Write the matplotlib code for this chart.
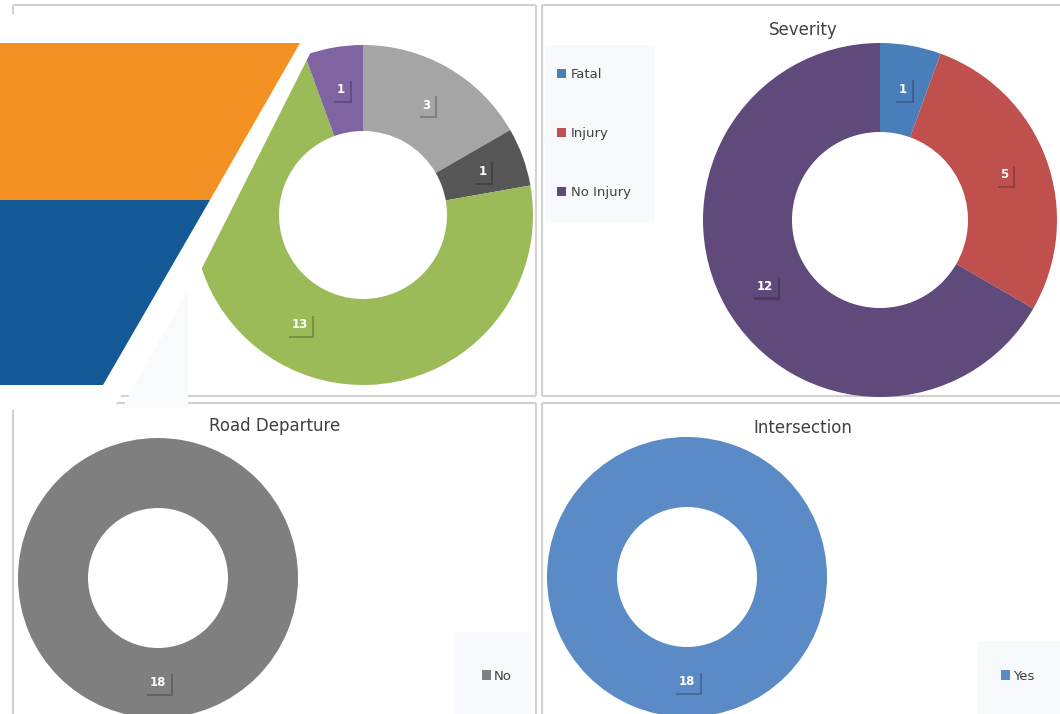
import matplotlib.pyplot as plt
from matplotlib import patheffects
from matplotlib.patches import Polygon, Rectangle

W, H = 1060, 714

# data
types_labels = ['A', 'B', 'C', 'D']
types_values = [3, 1, 13, 1]
types_colors = ['#a5a5a5', '#575757', '#9bbb59', '#8064a2']

severity_labels = ['Fatal', 'Injury', 'No Injury']
severity_values = [1, 5, 12]
severity_colors = ['#4a7ebb', '#c0504d', '#604a7b']

road_labels = ['No']
road_values = [18]
road_colors = ['#7f7f7f']

inter_labels = ['Yes']
inter_values = [18]
inter_colors = ['#5a8bc6']

TXT = '#404040'
BORDER = '#d2d2d2'
LEG_BG = '#f8f9fc'


def fx(x):
    return x / W


def fy(y):
    return 1 - y / H


fig = plt.figure(figsize=(W / 100, H / 100), dpi=100)

# background: panel borders and legend backgrounds
bg = fig.add_axes([0, 0, 1, 1], zorder=0)
bg.set_xlim(0, W)
bg.set_ylim(H, 0)
bg.axis('off')
lines = [
    ((13, 536), (5, 5)), ((536, 536), (5, 396)), ((13, 536), (396, 396)), ((13, 13), (5, 396)),
    ((542, 1062), (5, 5)), ((542, 542), (5, 396)), ((542, 1062), (396, 396)),
    ((13, 536), (403, 403)), ((13, 13), (403, 716)), ((536, 536), (403, 716)),
    ((542, 1062), (403, 403)), ((542, 542), (403, 716)),
]
for xs, ys in lines:
    bg.plot(xs, ys, color=BORDER, lw=1.6, solid_capstyle='butt')
for (x0, y0, x1, y1) in [(545, 45, 655, 222), (455, 632, 532, 716), (978, 641, 1060, 716)]:
    bg.add_patch(Rectangle((x0, y0), x1 - x0, y1 - y0, fc=LEG_BG, ec='none'))


def donut(cx, cy, R, r, values, colors):
    ax = fig.add_axes([fx(cx - R), fy(cy + R), 2 * R / W, 2 * R / H], zorder=1)
    total = sum(values)
    wedges, _, autotexts = ax.pie(
        values, colors=colors, startangle=90, counterclock=False,
        wedgeprops=dict(width=1 - r / R, edgecolor='none'),
        autopct=lambda p: f'{round(p * total / 100)}',
        pctdistance=1 - (1 - r / R) / 2,
        textprops=dict(color='white', fontsize=8.5, fontweight='bold'))
    for t, c in zip(autotexts, colors):
        t.set_bbox(dict(boxstyle='square,pad=0.4', fc=c, ec='none'))
        t.get_bbox_patch().set_path_effects([
            patheffects.SimplePatchShadow(offset=(1.5, -1.5), shadow_rgbFace='k', alpha=0.22),
            patheffects.Normal()])
    ax.set_xlim(-1, 1)
    ax.set_ylim(-1, 1)
    ax.set_aspect('equal')
    return ax, wedges


# top-left donut (partly hidden by the banner)
donut(363, 215, 170, 84, types_values, types_colors)

# severity
ax_s, w_s = donut(880, 220, 177, 88, severity_values, severity_colors)
fig.text(fx(803), fy(30), 'Severity', ha='center', va='center', fontsize=12, color=TXT)
ax_s.legend(w_s, severity_labels, loc='upper left', bbox_to_anchor=(fx(557), fy(68)),
            bbox_transform=fig.transFigure, frameon=False, fontsize=9.5,
            labelcolor=TXT, handlelength=0.7, handleheight=0.7, handletextpad=0.35,
            labelspacing=3.5, borderpad=0, borderaxespad=0)

# road departure
ax_r, w_r = donut(158, 578, 140, 70, road_values, road_colors)
fig.text(fx(275), fy(426), 'Road Departure', ha='center', va='center', fontsize=12, color=TXT)
ax_r.legend(w_r, road_labels, loc='center left', bbox_to_anchor=(fx(482), fy(676)),
            bbox_transform=fig.transFigure, frameon=False, fontsize=9.5,
            labelcolor=TXT, handlelength=0.7, handleheight=0.7, handletextpad=0.2,
            borderpad=0, borderaxespad=0)

# intersection
ax_i, w_i = donut(687, 577, 140, 70, inter_values, inter_colors)
fig.text(fx(803), fy(428), 'Intersection', ha='center', va='center', fontsize=12, color=TXT)
ax_i.legend(w_i, inter_labels, loc='center left', bbox_to_anchor=(fx(1001), fy(676)),
            bbox_transform=fig.transFigure, frameon=False, fontsize=9.5,
            labelcolor=TXT, handlelength=0.7, handleheight=0.7, handletextpad=0.2,
            borderpad=0, borderaxespad=0)

# banner overlay at top-left
ov = fig.add_axes([0, 0, 1, 1], zorder=5)
ov.set_xlim(0, W)
ov.set_ylim(H, 0)
ov.axis('off')
ov.patch.set_alpha(0)
ov.add_patch(Polygon([(0, 14), (330, 14), (200, 272), (112, 410), (0, 410)], fc='white', ec='none'))
ov.add_patch(Polygon([(188, 290), (188, 408), (122, 408)], fc='#f9fafc', ec='none'))
ov.add_patch(Polygon([(0, 43), (300, 43), (210, 200), (0, 200)], fc='#f39222', ec='none'))
ov.add_patch(Polygon([(0, 200), (210, 200), (103, 385), (0, 385)], fc='#135996', ec='none'))

fig.savefig('out.png', dpi=100)
